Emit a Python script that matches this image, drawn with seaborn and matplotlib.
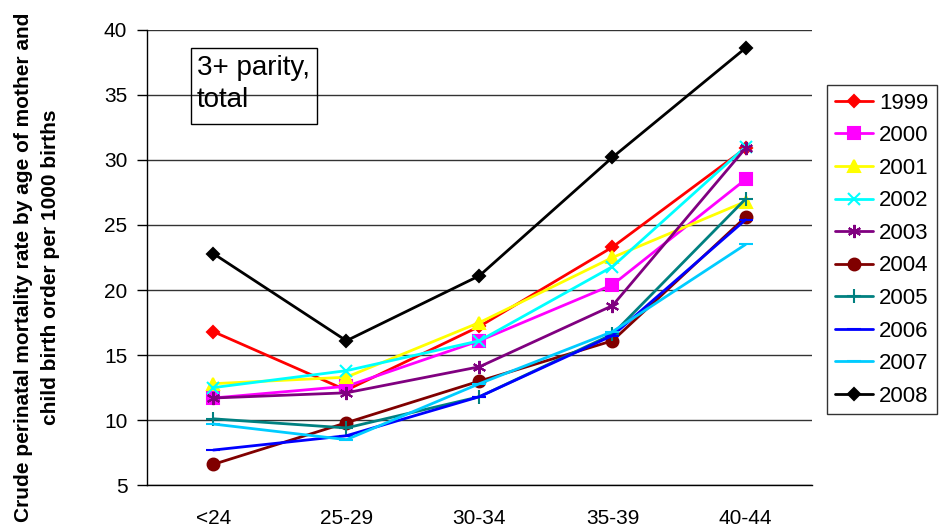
import matplotlib
matplotlib.use("Agg")
import matplotlib.pyplot as plt
import seaborn as sns
import pandas as pd
from matplotlib.patches import Rectangle

age_groups = ["<24", "25-29", "30-34", "35-39", "40-44"]
years = ["1999", "2000", "2001", "2002", "2003", "2004", "2005", "2006", "2007", "2008"]

rate_1999 = [16.8, 12.3, 17.2, 23.3, 30.9]
rate_2000 = [11.7, 12.6, 16.1, 20.4, 28.5]
rate_2001 = [12.8, 13.3, 17.5, 22.5, 26.8]
rate_2002 = [12.5, 13.8, 16.1, 21.8, 31.0]
rate_2003 = [11.7, 12.1, 14.1, 18.8, 30.9]
rate_2004 = [6.6, 9.8, 13.0, 16.1, 25.6]
rate_2005 = [10.1, 9.4, 11.8, 16.6, 27.0]
rate_2006 = [7.7, 8.8, 11.8, 16.5, 25.4]
rate_2007 = [9.7, 8.5, 12.8, 16.8, 23.5]
rate_2008 = [22.8, 16.1, 21.1, 30.2, 38.6]

series = [rate_1999, rate_2000, rate_2001, rate_2002, rate_2003,
          rate_2004, rate_2005, rate_2006, rate_2007, rate_2008]

colors = ["#FF0000", "#FF00FF", "#FFFF00", "#00FFFF", "#800080",
          "#800000", "#008080", "#0000FF", "#00CCFF", "#000000"]
markers = ["D", "s", "^", "x", (6, 2, 0), "o", "+", "_", "_", "D"]
msizes = [6.5, 8, 8.5, 8.5, 9.5, 8.5, 10, 10, 10, 6.5]

rows = []
for yr, vals in zip(years, series):
    for i, v in enumerate(vals):
        rows.append({"year": yr, "pos": i, "rate": v})
df = pd.DataFrame(rows)

sns.set_style("white")
plt.rcParams["font.family"] = ["Liberation Sans", "DejaVu Sans"]
plt.rcParams["text.color"] = "black"
plt.rcParams["axes.labelcolor"] = "black"
plt.rcParams["xtick.color"] = "black"
plt.rcParams["ytick.color"] = "black"

fig = plt.figure(figsize=(9.41, 5.32), dpi=100)
ax = fig.add_axes([0.156, 0.088, 0.707, 0.856])

for yr, col, mk, ms in zip(years, colors, markers, msizes):
    sub = df[df["year"] == yr]
    sns.lineplot(data=sub, x="pos", y="rate", ax=ax, color=col, marker=mk,
                 markersize=ms, linewidth=2.0, markeredgewidth=1.5,
                 markeredgecolor=col, label=yr, legend=False, zorder=3)

ax.set_xlim(-0.5, 4.5)
ax.set_ylim(5, 40)
ax.set_yticks(range(5, 41, 5))
ax.set_xticks(range(len(age_groups)))
ax.set_xticklabels(age_groups)
ax.set_xticks([i - 0.5 for i in range(len(age_groups) + 1)], minor=True)
ax.tick_params(axis="x", which="major", length=0, labelsize=15, pad=17,
               labelcolor="black")
ax.tick_params(axis="x", which="minor", length=7, width=1, color="black", direction="out")
ax.tick_params(axis="y", labelsize=15, length=7, width=1, color="black",
               labelcolor="black", direction="out", left=True, pad=7)
ax.yaxis.grid(True, color="#333333", linewidth=1)
ax.set_axisbelow(True)
for s in ["top", "right"]:
    ax.spines[s].set_visible(False)
for s in ["left", "bottom"]:
    ax.spines[s].set_color("black")
    ax.spines[s].set_linewidth(1)

ax.set_xlabel("")
ax.set_ylabel("")
fig.text(37 / 941, 0.498,
         "Crude perinatal mortality rate by age of mother and\nchild birth order per 1000 births",
         rotation=90, ha="center", va="center", multialignment="center",
         fontsize=15, fontweight="bold", linespacing=1.5, color="black")

# annotation box (unfilled, gridline shows through)
ax.add_patch(Rectangle((0.066, 0.793), 0.1895, 0.167, transform=ax.transAxes,
                       facecolor="none", edgecolor="black", linewidth=1, zorder=4))
ax.text(0.075, 0.901, "3+ parity,", transform=ax.transAxes, fontsize=20,
        va="baseline", ha="left", color="black", zorder=5)
ax.text(0.075, 0.831, "total", transform=ax.transAxes, fontsize=20,
        va="baseline", ha="left", color="black", zorder=5)

leg = ax.legend(loc="upper left", bbox_to_anchor=(1.0226, 0.879), fontsize=16,
                frameon=True, fancybox=False, edgecolor="black",
                handlelength=1.7, labelspacing=0.52, borderpad=0.35,
                handletextpad=0.3, borderaxespad=0)
leg.get_frame().set_linewidth(1)
for t in leg.get_texts():
    t.set_color("black")

fig.savefig("out.png", dpi=100)
